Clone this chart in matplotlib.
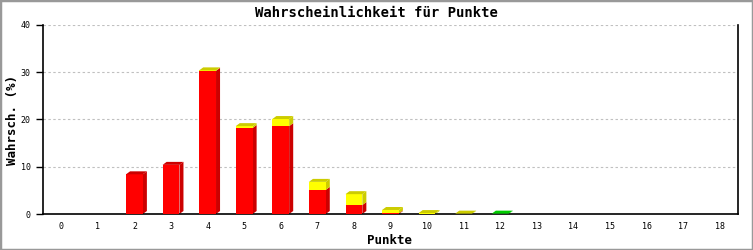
import numpy as np
import matplotlib.pyplot as plt
from matplotlib.patches import Polygon, Rectangle

# Werte
punkte = list(range(19))
rot = [0, 0, 8.4, 10.4, 30.3, 18.2, 18.6, 5.1, 1.9, 0.15, 0, 0, 0, 0, 0, 0, 0, 0, 0]
gelb = [0, 0, 0, 0, 0.1, 0.4, 1.5, 1.7, 2.3, 0.7, 0.2, 0.08, 0, 0, 0, 0, 0, 0, 0]
gruen = [0, 0, 0, 0, 0, 0, 0, 0, 0, 0, 0, 0, 0.08, 0, 0, 0, 0, 0, 0]

serien = [
    (rot, "#ff0000", "#cc0000"),
    (gelb, "#ffff00", "#cccc00"),
    (gruen, "#00ff00", "#00cc00"),
]

fig = plt.figure(figsize=(7.53, 2.5), dpi=100)
ax = fig.add_axes([43/753, 36/250, 695/753, 189/250])

font = "DejaVu Sans Mono"
breite = 0.46
dx, dy = 0.11, 0.63  # 3D-Tiefe in Dateneinheiten

unten = np.zeros(len(punkte))
oben_farbe = [None] * len(punkte)
for werte, farbe, dunkel in serien:
    werte = np.array(werte)
    for i, x in enumerate(punkte):
        if werte[i] <= 0:
            continue
        b = unten[i]
        t = b + werte[i]
        r = x + breite / 2
        ax.add_patch(Polygon([(r, b), (r + dx, b + dy), (r + dx, t + dy), (r, t)],
                             closed=True, facecolor=dunkel, edgecolor="none", zorder=2))
        oben_farbe[i] = dunkel
    ax.bar(punkte, werte, width=breite, bottom=unten, color=farbe, zorder=3)
    unten += werte

for i, x in enumerate(punkte):
    if oben_farbe[i] is None:
        continue
    t = unten[i]
    l = x - breite / 2
    r = x + breite / 2
    ax.add_patch(Polygon([(l, t), (l + dx, t + dy), (r + dx, t + dy), (r, t)],
                         closed=True, facecolor=oben_farbe[i], edgecolor="none", zorder=4))

ax.set_xlim(-0.5, 18.5)
ax.set_ylim(0, 40)
ax.set_yticks([0, 10, 20, 30, 40])
ax.set_xticks(punkte)
ax.yaxis.grid(True, color="#c0c0c0", linestyle=(0, (2.2, 2.2)), linewidth=0.8)
ax.set_axisbelow(True)
ax.spines["top"].set_visible(False)
for s in ["left", "bottom", "right"]:
    ax.spines[s].set_linewidth(1.2)
ax.tick_params(axis="y", length=5, width=1, direction="out", pad=4)
ax.tick_params(axis="x", length=0, pad=6)
for lab in ax.get_xticklabels() + ax.get_yticklabels():
    lab.set_family(font)
    lab.set_fontsize(6)

fig.text(0.5, 1 - 13/250, "Wahrscheinlichkeit für Punkte", family=font,
         fontweight="bold", fontsize=10, ha="center", va="center")
fig.text(390/753, 1 - 240/250, "Punkte", family=font, fontweight="bold",
         fontsize=9, ha="center", va="center")
fig.text(13/753, 1 - 120/250, "Wahrsch. (%)", family=font, fontweight="bold",
         fontsize=9, ha="center", va="center", rotation=90)

fig.patches.append(Rectangle((0, 0), 1, 1, transform=fig.transFigure, fill=False,
                             edgecolor="#999999", linewidth=2.5))

fig.savefig("out.png", dpi=100)
